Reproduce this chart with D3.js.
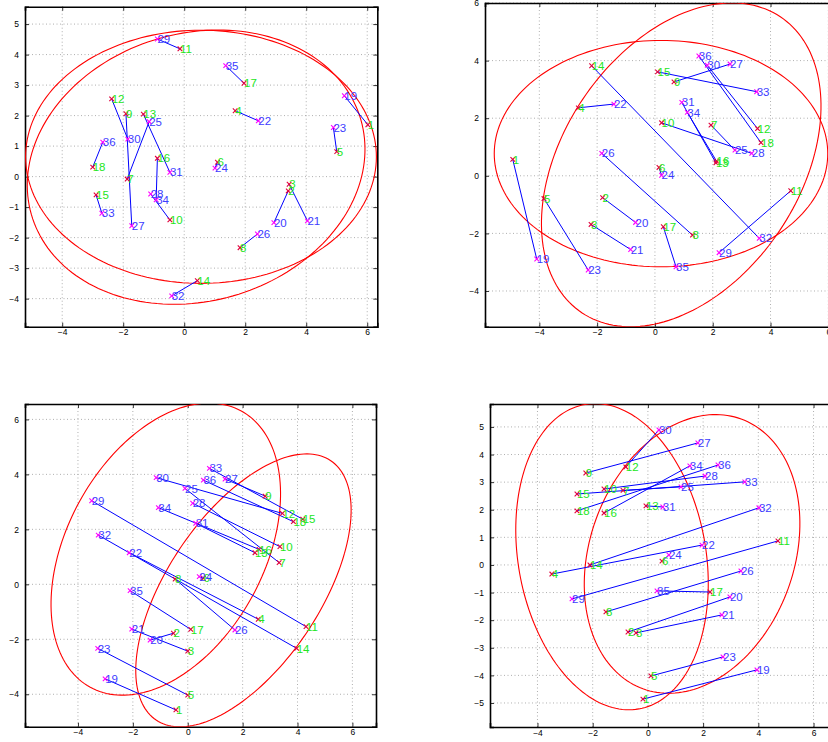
<!DOCTYPE html>
<html><head><meta charset="utf-8">
<script src="https://cdn.jsdelivr.net/npm/d3@7"></script>
<style>body{margin:0;background:#fff;overflow:hidden}</style>
</head><body>
<svg id="c" width="828" height="742" xmlns="http://www.w3.org/2000/svg"></svg>
<script>
// point labels: 1..18 (green set) matched with 19..36 (blue set)
const labels = d3.range(1, 37);

// Panel 1 (top-left)
const p1x = [6.02,3.41,3.44,1.67,5.00,1.09,-1.87,1.83,-1.91,-0.47,-0.14,-2.38,-1.34,0.43,-2.89,-0.88,1.96,-3.00,
             5.25,2.94,4.04,2.43,4.89,1.01,-1.15,2.40,-1.72,-1.10,-0.88,-1.85,-0.47,-0.41,-2.70,-0.92,1.36,-2.67];
const p1y = [1.70,-0.47,-0.25,2.16,0.82,0.47,-0.08,-2.33,2.06,-1.42,4.19,2.55,2.05,-3.41,-0.60,0.60,3.06,0.31,
             2.65,-1.51,-1.45,1.83,1.61,0.28,1.80,-1.88,-1.61,-0.57,4.51,1.23,0.14,-3.91,-1.20,-0.76,3.64,1.13];
// Panel 2 (top-right)
const p2x = [-4.92,-1.81,-2.21,-2.65,-3.84,0.14,1.94,1.30,0.66,0.23,4.70,3.55,2.11,-2.19,0.09,2.13,0.29,3.67,
             -4.09,-0.67,-0.84,-1.42,-2.31,0.23,2.77,-1.84,2.60,3.35,2.22,1.81,0.93,3.61,3.52,1.12,0.73,1.52];
const p2y = [0.57,-0.76,-1.69,2.36,-0.79,0.29,1.76,-2.06,3.26,1.84,-0.52,1.64,0.45,3.82,3.61,0.51,-1.77,1.15,
             -2.89,-1.62,-2.56,2.49,-3.27,0.02,0.89,0.78,3.88,0.78,-2.67,3.84,2.55,-2.17,2.92,2.20,-3.16,4.16];
// Panel 3 (bottom-left)
const p3x = [-0.43,-0.52,0.00,2.57,0.00,0.57,3.33,-0.46,2.82,3.36,4.31,3.45,2.45,3.97,4.19,2.60,0.11,3.85,
             -3.01,-1.37,-2.04,-2.13,-3.28,0.42,-0.10,1.72,1.36,0.18,-3.50,-1.15,0.29,-3.26,0.79,-1.07,-2.10,0.57];
const p3y = [-4.57,-1.78,-2.43,-1.27,-4.03,0.22,0.79,0.19,3.21,1.37,-1.54,2.58,1.15,-2.33,2.37,1.27,-1.64,2.28,
             -3.44,-2.03,-1.63,1.15,-2.33,0.28,3.49,-1.66,3.83,2.95,3.04,3.88,2.22,1.79,4.22,2.79,-0.23,3.79];
// Panel 4 (bottom-right)
const p4x = [-0.18,-0.72,-0.43,-3.48,0.11,0.51,-0.90,-1.52,-2.25,-1.59,4.71,-0.80,-0.07,-2.10,-2.57,-1.59,2.25,-2.57,
             3.95,2.97,2.68,1.96,2.72,0.76,1.20,3.37,1.81,2.07,-2.75,0.40,0.54,4.02,3.51,1.52,0.33,2.54];
const p4y = [-4.86,-2.43,-2.46,-0.33,-4.02,0.14,2.70,-1.70,3.33,2.75,0.87,3.55,2.14,0.00,2.57,1.88,-0.98,1.96,
             -3.80,-1.16,-1.81,0.72,-3.33,0.36,2.83,-0.22,4.42,3.22,-1.23,4.89,2.10,2.07,3.01,3.59,-0.94,3.62];

// Ellipses per panel: [centre x, centre y, semi-axis a, semi-axis b, angle of a (deg)]
const ell1 = [[0.55,0.65,5.75,4.15,0],[0.39,0.31,5.62,4.39,16]];
const ell2 = [[0.21,0.77,5.77,3.93,0],[0.91,0.38,6.18,4.10,56.3]];
const ell3 = [[-0.80,1.28,5.73,3.59,61.3],[2.03,-0.22,5.69,2.77,56.0]];
const ell4 = [[-1.30,0.30,5.60,3.40,100],[1.60,0.40,5.20,3.70,70]];

// Axis domains and tick values
const xDom = [[-5.22,6.33],[-5.88,6.30],[-5.93,6.86],[-5.72,6.85]];
const yDom = [[-4.92,5.57],[-5.24,6.00],[-5.18,6.56],[-5.87,5.83]];
const xTicks = [[-4,-2,0,2,4,6],[-4,-2,0,2,4,6],[-4,-2,0,2,4,6],[-4,-2,0,2,4,6]];
const yTicks = [[-4,-3,-2,-1,0,1,2,3,4,5],[-4,-2,0,2,4,6],[-4,-2,0,2,4,6],[-5,-4,-3,-2,-1,0,1,2,3,4,5]];

// layout (pixel boxes): left, right, top, bottom
const boxes = [[25,377.3,6.7,326.7],[485,837,3,326.7],[25,376,404,726.7],[490,837,404,727]];

const PX = [p1x,p2x,p3x,p4x], PY = [p1y,p2y,p3y,p4y], ELL = [ell1,ell2,ell3,ell4];

const svg = d3.select("#c");
const fmt = v => (v < 0 ? "\u2212" + Math.abs(v) : String(v));

boxes.forEach((b, k) => {
  const [L, R, T, B] = b;
  const x = d3.scaleLinear().domain(xDom[k]).range([L, R]);
  const y = d3.scaleLinear().domain(yDom[k]).range([B, T]);
  const g = svg.append("g");
  const cid = "clip" + k;
  svg.append("clipPath").attr("id", cid).append("rect")
     .attr("x", L).attr("y", T).attr("width", R - L).attr("height", B - T);

  const grid = g.append("g").attr("stroke", "#9a9a9a").attr("stroke-width", 0.8)
     .attr("stroke-dasharray", "1,2.5");
  xTicks[k].forEach(t => grid.append("line").attr("x1", x(t)).attr("x2", x(t)).attr("y1", T).attr("y2", B));
  yTicks[k].forEach(t => grid.append("line").attr("y1", y(t)).attr("y2", y(t)).attr("x1", L).attr("x2", R));

  const ax = [
    d3.axisBottom(x).tickValues(xTicks[k]).tickSize(-4).tickFormat(fmt),
    d3.axisTop(x).tickValues(xTicks[k]).tickSize(-4).tickFormat(""),
    d3.axisLeft(y).tickValues(yTicks[k]).tickSize(-4).tickFormat(fmt),
    d3.axisRight(y).tickValues(yTicks[k]).tickSize(-4).tickFormat("")
  ];
  const tr = [`translate(0,${B})`, `translate(0,${T})`, `translate(${L},0)`, `translate(${R},0)`];
  ax.forEach((a, i) => {
    const ga = g.append("g").attr("transform", tr[i]).call(a);
    ga.select(".domain").attr("stroke", "#000").attr("stroke-width", 1.6);
    ga.selectAll(".tick line").attr("stroke", "#000").attr("stroke-width", 0.8);
    ga.selectAll("text").attr("font-family", "Liberation Sans, Arial, sans-serif")
      .attr("font-size", 8.5).attr("fill", "#000");
    if (i === 0) ga.selectAll("text").attr("dy", "0.2em").attr("y", 7);
    if (i === 2) ga.selectAll("text").attr("x", -6);
  });

  const plot = g.append("g").attr("clip-path", `url(#${cid})`);
  const line = d3.line();
  ELL[k].forEach(e => {
    const [cx, cy, a, bb, deg] = e;
    const ph = deg * Math.PI / 180;
    const pts = d3.range(0, 361, 2).map(d => {
      const t = d * Math.PI / 180;
      const ex = cx + a * Math.cos(ph) * Math.cos(t) - bb * Math.sin(ph) * Math.sin(t);
      const ey = cy + a * Math.sin(ph) * Math.cos(t) + bb * Math.cos(ph) * Math.sin(t);
      return [x(ex), y(ey)];
    });
    plot.append("path").attr("d", line(pts)).attr("fill", "none")
        .attr("stroke", "#ff0000").attr("stroke-width", 1.1);
  });

  const xs = PX[k], ys = PY[k];
  d3.range(18).forEach(i => {
    plot.append("line").attr("x1", x(xs[i])).attr("y1", y(ys[i]))
        .attr("x2", x(xs[i + 18])).attr("y2", y(ys[i + 18]))
        .attr("stroke", "#0000ff").attr("stroke-width", 1);
  });
  labels.forEach((lab, i) => {
    const cx = x(xs[i]), cy = y(ys[i]), s = 2.3;
    const col = i < 18 ? "#e0003c" : "#ff00ff";
    const m = plot.append("g").attr("stroke", col).attr("stroke-width", 1.1);
    m.append("line").attr("x1", cx - s).attr("y1", cy - s).attr("x2", cx + s).attr("y2", cy + s);
    m.append("line").attr("x1", cx - s).attr("y1", cy + s).attr("x2", cx + s).attr("y2", cy - s);
  });
  labels.forEach((lab, i) => {
    g.append("text").attr("x", x(xs[i])).attr("y", y(ys[i])).attr("dy", "0.36em")
      .attr("font-family", "Liberation Sans, Arial, sans-serif").attr("font-size", 11.5)
      .attr("fill", i < 18 ? "#22e622" : "#3c3cff").text(lab);
  });
});
</script>
</body></html>
